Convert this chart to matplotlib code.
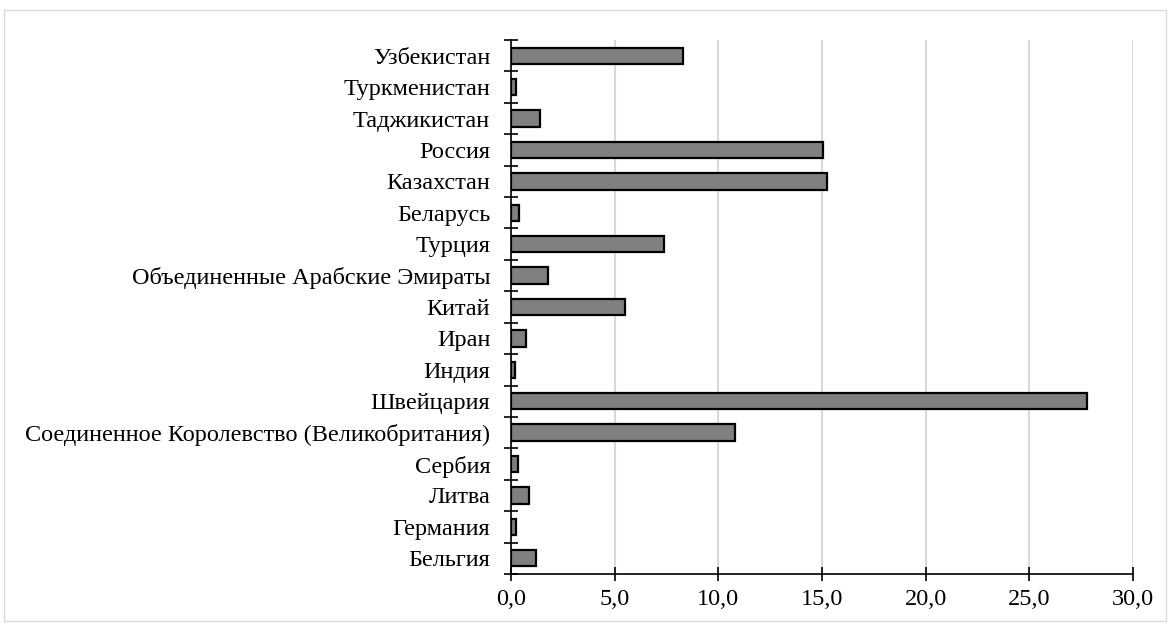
import matplotlib.pyplot as plt
from matplotlib.ticker import FuncFormatter, FixedLocator
from matplotlib.patches import Rectangle

# bottom to top
countries = ["Бельгия", "Германия", "Литва", "Сербия",
             "Соединенное Королевство (Великобритания)", "Швейцария",
             "Индия", "Иран", "Китай", "Объединенные Арабские Эмираты",
             "Турция", "Беларусь", "Казахстан", "Россия", "Таджикистан",
             "Туркменистан", "Узбекистан"]
values = [1.2, 0.25, 0.85, 0.35, 10.8, 27.8, 0.2, 0.7, 5.5, 1.8,
          7.4, 0.4, 15.25, 15.05, 1.4, 0.25, 8.3]
x_ticks = [0, 5, 10, 15, 20, 25, 30]

plt.rcParams['font.family'] = ['Liberation Serif', 'DejaVu Serif']

fig = plt.figure(figsize=(11.7, 6.25), dpi=100)
ax = fig.add_axes([511/1170, 1-574/625, (1133-511)/1170, (574-40)/625])

pos = list(range(len(countries)))
ax.barh(pos, values, height=0.52, color="#808080", edgecolor="black",
        linewidth=1.6, zorder=3)

ax.set_xlim(0, 30)
ax.set_ylim(-0.5, len(countries) - 0.5)

ax.set_xticks(x_ticks)
ax.xaxis.set_major_formatter(FuncFormatter(lambda v, p: f"{v:.1f}".replace(".", ",")))
ax.tick_params(axis="x", direction="inout", length=10, width=1.2, pad=6,
               labelsize=17.5)

ax.set_yticks(pos)
ax.set_yticklabels(countries)
ax.yaxis.set_minor_locator(FixedLocator([p - 0.5 for p in pos] + [len(pos) - 0.5]))
ax.tick_params(axis="y", which="major", length=0, pad=15, labelsize=17.5)
ax.tick_params(axis="y", which="minor", direction="inout", length=10, width=1.2)

ax.grid(axis="x", color="#d9d9d9", linewidth=1.5, zorder=0)
ax.set_axisbelow(True)
for s in ["top", "right"]:
    ax.spines[s].set_visible(False)
for s in ["left", "bottom"]:
    ax.spines[s].set_linewidth(1.2)
    ax.spines[s].set_zorder(4)

fig.patches.append(Rectangle((4/1170, 4/625), 1162/1170, 611/625,
                             transform=fig.transFigure, fill=False,
                             edgecolor="#d9d9d9", linewidth=1))

fig.savefig("out.png", dpi=100)
